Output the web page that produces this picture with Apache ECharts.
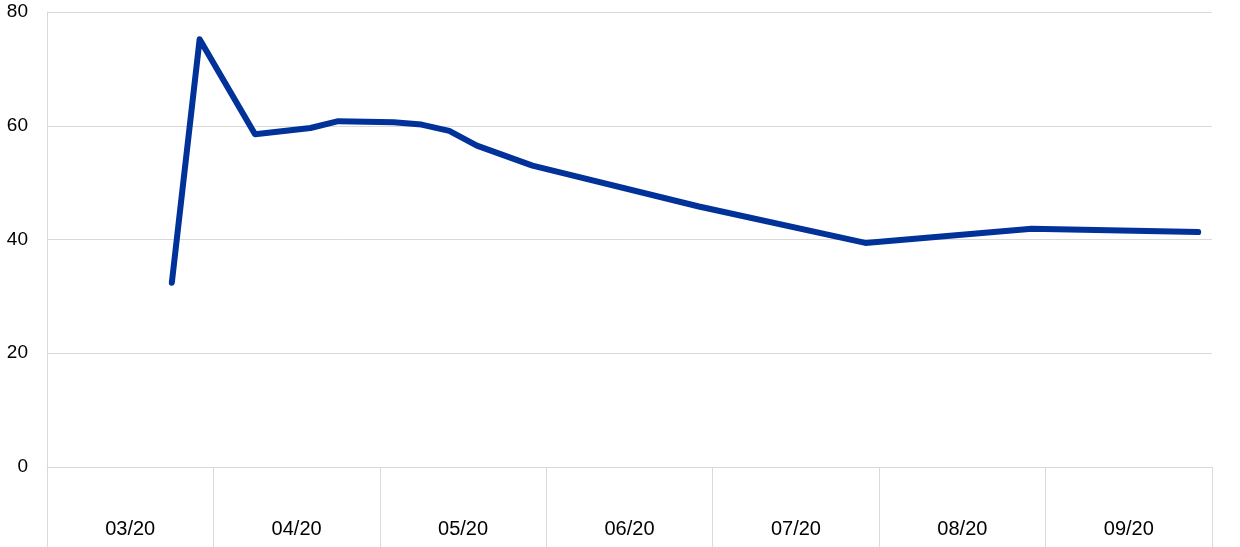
<!DOCTYPE html>
<html><head><meta charset="utf-8">
<script src="https://cdn.jsdelivr.net/npm/echarts@6/dist/echarts.min.js"></script>
<style>html,body{margin:0;padding:0;background:#fff}#c{width:1240px;height:547px}</style>
</head><body><div id="c"></div>
<script>
const monthLabels = ['03/20','04/20','05/20','06/20','07/20','08/20','09/20'];
// positions in months since start of 03/20
const pointPositions = [0.75, 0.917, 1.25, 1.583, 1.75, 2.083, 2.25, 2.417, 2.583, 2.917, 3.917, 4.917, 5.917, 6.917];
const seriesValues = [32.4, 75.2, 58.5, 59.6, 60.8, 60.6, 60.2, 59.1, 56.5, 53.0, 45.8, 39.4, 41.9, 41.3];
const yTicks = [0, 20, 40, 60, 80];

const chart = echarts.init(document.getElementById('c'));
const grey = '#d9d9d9';
chart.setOption({
  animation: false,
  grid: {left: 47, right: 28, top: 12, bottom: 80},
  xAxis: [
    {type: 'category', data: monthLabels, boundaryGap: true,
     axisLine: {show: true, lineStyle: {color: grey, width: 1}},
     axisTick: {show: true, alignWithLabel: false, length: 80, lineStyle: {color: grey, width: 1}},
     axisLabel: {color: '#000', fontFamily: 'Liberation Sans, Arial', fontSize: 20, margin: 52},
     splitLine: {show: false}},
    {type: 'value', min: 0, max: monthLabels.length, show: false}
  ],
  yAxis: {type: 'value', min: yTicks[0], max: yTicks[yTicks.length-1], interval: 20,
    axisLine: {show: true, lineStyle: {color: grey, width: 1}},
    axisTick: {show: false},
    axisLabel: {color: '#000', fontFamily: 'Liberation Sans, Arial', fontSize: 19, margin: 19},
    splitLine: {show: true, lineStyle: {color: grey, width: 1}}},
  series: [{
    type: 'line', xAxisIndex: 1, showSymbol: false, symbol: 'none',
    data: pointPositions.map((p, i) => [p, seriesValues[i]]),
    lineStyle: {color: '#003299', width: 6, cap: 'round', join: 'round'}
  }]
});
</script></body></html>
